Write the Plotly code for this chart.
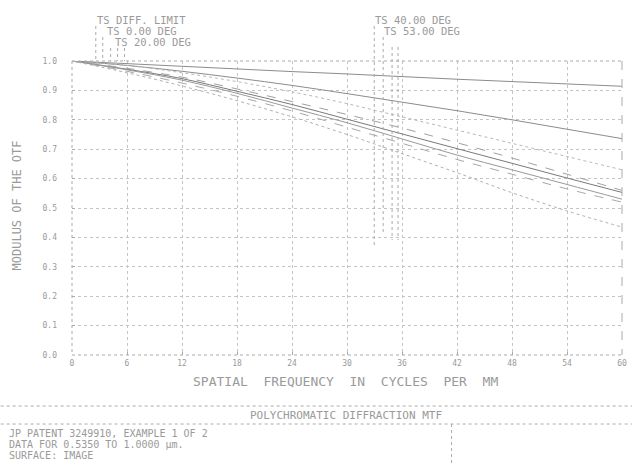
import plotly.graph_objects as go

# ---- data ----
FREQ = [0, 6, 12, 18, 24, 30, 36, 42, 48, 54, 60]
DIFF_LIMIT = [1.0, 0.991, 0.982, 0.973, 0.964, 0.956, 0.947, 0.938, 0.930, 0.922, 0.914]
TS_0 = [1.0, 0.985, 0.965, 0.942, 0.917, 0.889, 0.860, 0.831, 0.800, 0.768, 0.736]
S_20 = [1.0, 0.985, 0.960, 0.930, 0.895, 0.855, 0.810, 0.765, 0.720, 0.675, 0.630]
T_20 = [1.0, 0.972, 0.940, 0.897, 0.852, 0.802, 0.752, 0.702, 0.652, 0.602, 0.553]
S_40 = [1.0, 0.975, 0.945, 0.905, 0.862, 0.818, 0.772, 0.722, 0.670, 0.615, 0.560]
T_40 = [1.0, 0.970, 0.935, 0.890, 0.840, 0.790, 0.735, 0.680, 0.630, 0.580, 0.530]
S_53 = [1.0, 0.965, 0.925, 0.880, 0.830, 0.775, 0.720, 0.665, 0.615, 0.565, 0.520]
T_53 = [1.0, 0.960, 0.915, 0.865, 0.810, 0.750, 0.685, 0.620, 0.552, 0.490, 0.435]
X_TICKS = [0, 6, 12, 18, 24, 30, 36, 42, 48, 54, 60]
Y_TICKS = [0.0, 0.1, 0.2, 0.3, 0.4, 0.5, 0.6, 0.7, 0.8, 0.9, 1.0]

W, H = 637, 463
L, R, T, B = 72, 627, 61, 355
FONT = "DejaVu Sans Mono"
GRAY = "#9a9a9a"

def px(x):
    return (x - L) / (R - L)

def py(y):
    return (B - y) / (B - T)

fig = go.Figure()
series = [
    ("DIFF. LIMIT", DIFF_LIMIT, "#8c8c8c", "solid"),
    ("0.00 DEG", TS_0, "#8c8c8c", "solid"),
    ("20.00 DEG S", S_20, "#b8b8b8", "dot"),
    ("20.00 DEG T", T_20, "#7a7a7a", "solid"),
    ("40.00 DEG S", S_40, "#a0a0a0", "dash"),
    ("40.00 DEG T", T_40, "#9a9a9a", "solid"),
    ("53.00 DEG S", S_53, "#a8a8a8", "dash"),
    ("53.00 DEG T", T_53, "#b0b0b0", "dot"),
]
for name, vals, col, dash in series:
    fig.add_trace(go.Scatter(x=FREQ, y=vals, mode="lines", name=name,
                             line=dict(color=col, width=1, dash=dash, shape="spline"),
                             showlegend=False, hoverinfo="skip"))

ann = []
def text(s, x, y, size, anchor="left", angle=0):
    ann.append(dict(text=s, x=px(x), y=py(y), xref="paper", yref="paper",
                    xanchor=anchor, yanchor="middle", showarrow=False, textangle=angle,
                    borderpad=0, font=dict(family=FONT, size=size, color=GRAY)))

nb = "\u00a0"
text("TS DIFF. LIMIT", 96, 20, 10.5)
text("TS 0.00 DEG", 106, 31, 10.5)
text("TS 20.00 DEG", 114, 42, 10.5)
text("TS 40.00 DEG", 377, 20, 10.5)
text("TS 53.00 DEG", 386, 31, 10.5)
text(("SPATIAL FREQUENCY IN CYCLES PER MM").replace(" ", nb * 2), 348, 381, 13, anchor="center")
text("MODULUS OF THE OTF", 17, 205, 12, anchor="center", angle=-90)
text("POLYCHROMATIC DIFFRACTION MTF", 348, 415, 11, anchor="center")
text("JP PATENT 3249910, EXAMPLE 1 OF 2", 7, 433, 10)
text("DATA FOR 0.5350 TO 1.0000 \u00b5m.", 7, 444, 10)
text("SURFACE: IMAGE", 7, 455, 10)

shapes = []
def seg(x0, y0, x1, y1, dash="dot", col="#aaaaaa", w=1):
    shapes.append(dict(type="line", xref="paper", yref="paper",
                       x0=px(x0), y0=py(y0), x1=px(x1), y1=py(y1),
                       line=dict(color=col, width=w, dash=dash)))

# plot frame
seg(L, T, R, T)
seg(L, B, R, B)
seg(L, T, L, B)
seg(R, T, R, B, dash="dash")
# label leaders
for x0, y0 in [(96, 26), (103, 37), (111, 48), (118, 48), (125, 48)]:
    seg(x0, y0, x0, T)
for x0, y0, y1 in [(377, 26, 245), (386, 37, 235), (395, 47, 240), (401, 47, 240)]:
    seg(x0, y0, x0, y1)
# footer box
seg(0, 406, W, 406)
seg(0, 424, W, 424)
seg(455, 424, 455, H)

fig.update_layout(
    width=W, height=H,
    margin=dict(l=L, r=W - R, t=T, b=H - B),
    paper_bgcolor="white", plot_bgcolor="white",
    annotations=ann, shapes=shapes,
    xaxis=dict(range=[0, 60], tickvals=X_TICKS, ticktext=[str(v) for v in X_TICKS],
               showgrid=True, gridcolor="#c4c4c4", griddash="dot", gridwidth=1,
               zeroline=False, showline=False, ticks="inside", ticklen=3, tickcolor="#aaaaaa",
               ticklabeloverflow="allow", ticklabelstandoff=2,
               tickfont=dict(family=FONT, size=8, color=GRAY)),
    yaxis=dict(range=[0, 1.0], tickvals=Y_TICKS, ticktext=["%.1f" % v for v in Y_TICKS],
               showgrid=True, gridcolor="#c4c4c4", griddash="dot", gridwidth=1,
               zeroline=False, showline=False, ticks="inside", ticklen=3, tickcolor="#aaaaaa",
               ticklabelstandoff=14,
               tickfont=dict(family=FONT, size=8, color=GRAY)),
)

fig.write_html("out.html", config={"displayModeBar": False},
               post_script="document.body.style.margin='0';document.body.style.overflow='hidden';")
